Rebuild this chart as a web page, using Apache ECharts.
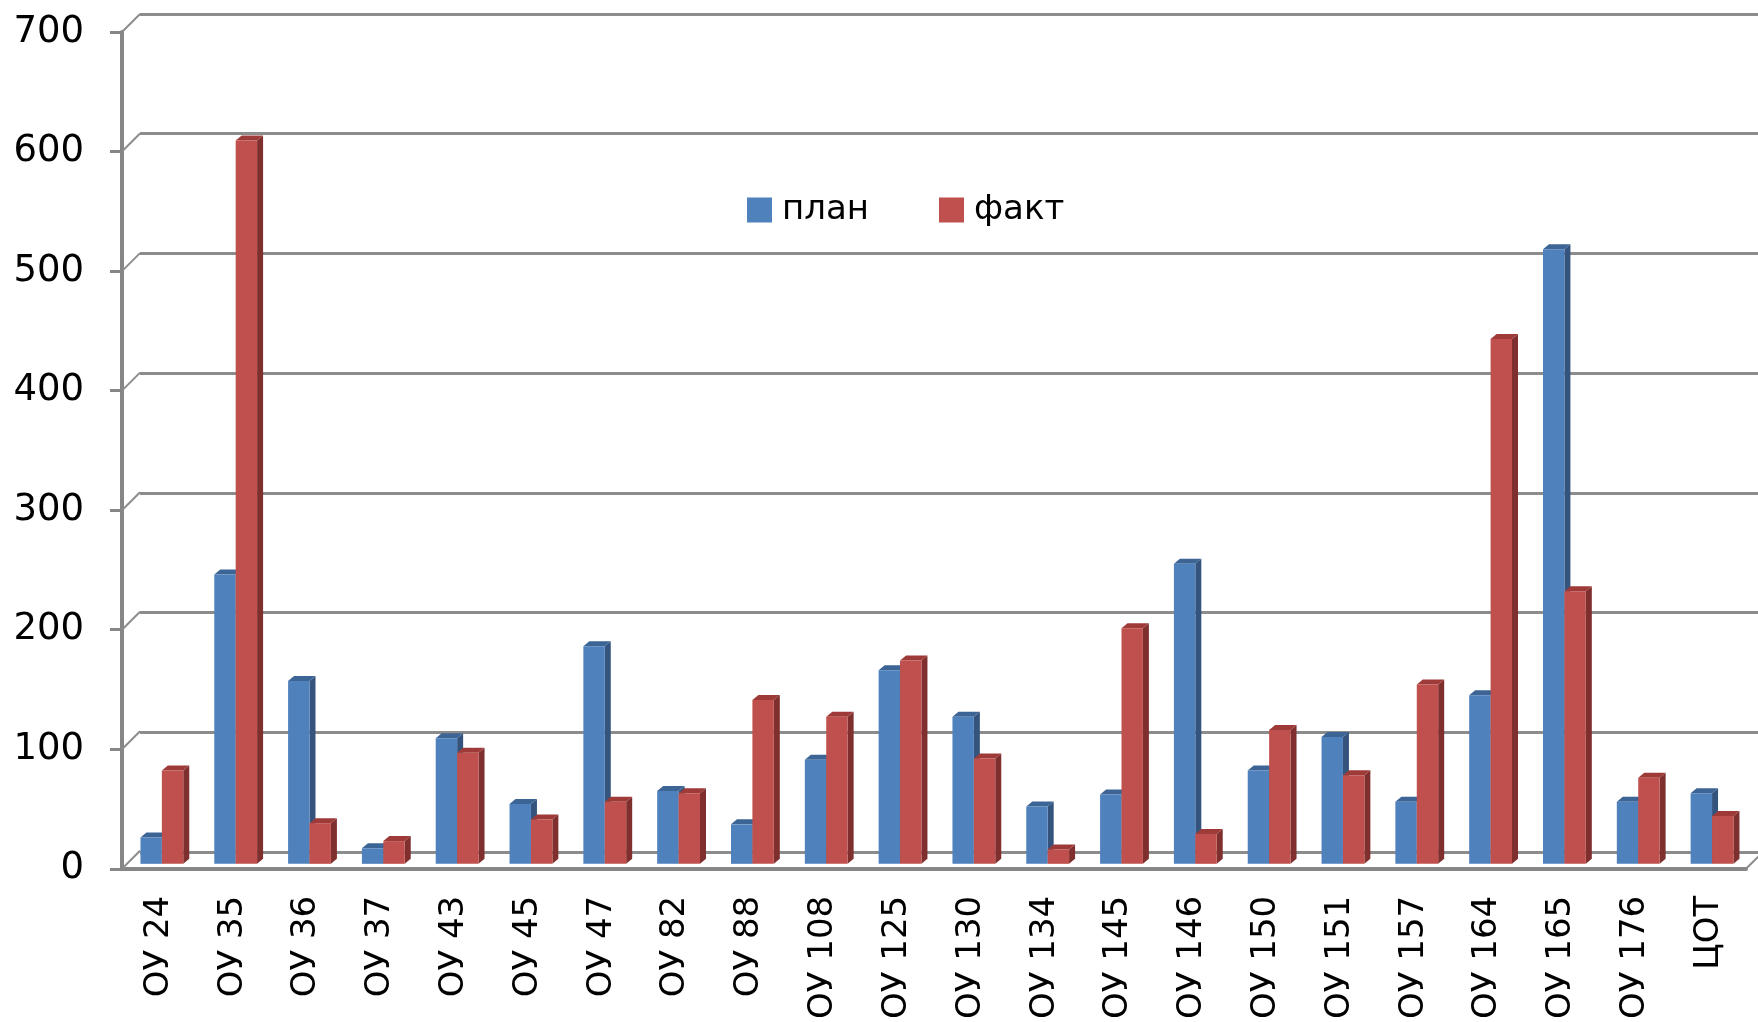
<!DOCTYPE html>
<html lang="ru">
<head>
<meta charset="UTF-8">
<title>план / факт</title>
<script src="https://cdn.jsdelivr.net/npm/echarts@6/dist/echarts.min.js"></script>
<style>
    * { padding: 0; margin: 0; }
    body { background: #fff; }
</style>
</head>
<body>
<div id="chart" style="width:1758px;height:1022px;"></div>
<script>
    var categories = ['ОУ 24', 'ОУ 35', 'ОУ 36', 'ОУ 37', 'ОУ 43', 'ОУ 45', 'ОУ 47', 'ОУ 82', 'ОУ 88', 'ОУ 108', 'ОУ 125',
        'ОУ 130', 'ОУ 134', 'ОУ 145', 'ОУ 146', 'ОУ 150', 'ОУ 151', 'ОУ 157', 'ОУ 164', 'ОУ 165', 'ОУ 176', 'ЦОТ'];
    var plan = [22, 242, 153, 13, 105, 50, 182, 61, 33, 87, 162, 123, 48, 58, 251, 78, 106, 52, 141, 514, 52, 59];
    var fact = [78, 605, 34, 19, 93, 37, 52, 59, 137, 123, 170, 88, 12, 197, 25, 112, 74, 150, 439, 228, 72, 40];
    var yTicks = [0, 100, 200, 300, 400, 500, 600, 700];

    var font = 'DejaVu Sans';

    // bar drawn as front face + dark right side + top, like the excel 3d column
    function bar3d(off, front, side, topc) {
        return function (params, api) {
            var i = api.value(0), v = api.value(1);
            var top = api.coord([i, v]);
            var base = api.coord([i, 0]);
            var band = api.size([1, 0])[0];
            var w = band * 0.29;
            var x0 = top[0] + band * off;
            var lift = 5, dx = 6, dy = 5;
            var yt = top[1] - lift, yb = base[1] - lift;
            return {
                type: 'group',
                children: [
                    {type: 'polygon', shape: {points: [[x0 + w, yt], [x0 + w + dx, yt - dy], [x0 + w + dx, yb - dy], [x0 + w, yb]]},
                        style: {fill: side}},
                    {type: 'polygon', shape: {points: [[x0, yt], [x0 + dx, yt - dy], [x0 + w + dx, yt - dy], [x0 + w, yt]]},
                        style: {fill: topc}},
                    {type: 'rect', shape: {x: x0, y: yt, width: w, height: yb - yt}, style: {fill: front}}
                ]
            };
        };
    }

    var chart = echarts.init(document.getElementById('chart'));
    var option = {
        animation: false,
        color: ['#4F81BD', '#C0504D'],
        legend: {
            data: ['план', 'факт'],
            left: 747,
            top: 193,
            padding: 0,
            icon: 'rect',
            itemWidth: 25,
            itemHeight: 25,
            itemGap: 70,
            textStyle: {fontFamily: font, fontSize: 34, color: '#000', padding: [0, 0, 0, 5]}
        },
        grid: [
            {left: 122, right: 12, top: 32, bottom: 152},
            {left: 140, right: -30, top: 14, bottom: 170}
        ],
        xAxis: [
            {
                type: 'category',
                gridIndex: 0,
                data: categories,
                axisLine: {lineStyle: {color: '#868686', width: 4}},
                axisTick: {length: 14, lineStyle: {color: '#868686', width: 3}},
                axisLabel: {
                    interval: 0, rotate: 90, margin: 27,
                    fontFamily: font, fontSize: 34, color: '#000'
                }
            },
            {type: 'value', gridIndex: 1, min: 0, max: 1, show: false}
        ],
        yAxis: [
            {
                type: 'value',
                gridIndex: 0,
                min: 0, max: 700, interval: 100,
                axisLine: {show: true, lineStyle: {color: '#868686', width: 4}},
                axisTick: {show: true, length: 12, lineStyle: {color: '#868686', width: 3}},
                axisLabel: {margin: 38, fontFamily: font, fontSize: 37, color: '#000'},
                splitLine: {show: false}
            },
            {
                type: 'value',
                gridIndex: 1,
                min: 0, max: 700, interval: 100,
                axisLine: {show: false},
                axisTick: {show: false},
                axisLabel: {show: false},
                splitLine: {show: true, lineStyle: {color: '#8c8c8c', width: 3}}
            }
        ],
        series: [
            {
                // little diagonals linking the front axis to the back wall
                type: 'custom',
                silent: true,
                xAxisIndex: 0, yAxisIndex: 0,
                data: yTicks.map(function (t) { return [0, t]; }),
                renderItem: function (params, api) {
                    var p = api.coord([0, api.value(1)]);
                    var band = api.size([1, 0])[0];
                    var x = p[0] - band / 2;
                    var kids = [{type: 'line', shape: {x1: x, y1: p[1], x2: x + 18, y2: p[1] - 18},
                        style: {stroke: '#8c8c8c', lineWidth: 2}}];
                    if (api.value(1) === 0) {
                        var r = api.coord([categories.length - 1, 0])[0] + band / 2;
                        kids.push({type: 'line', shape: {x1: r, y1: p[1], x2: r + 18, y2: p[1] - 18},
                            style: {stroke: '#8c8c8c', lineWidth: 2}});
                    }
                    return {type: 'group', children: kids};
                }
            },
            {
                name: 'план',
                type: 'custom',
                xAxisIndex: 0, yAxisIndex: 0,
                itemStyle: {color: '#4F81BD'},
                data: plan.map(function (v, i) { return [i, v]; }),
                renderItem: bar3d(-0.25, '#4F81BD', '#34547E', '#3C6494')
            },
            {
                name: 'факт',
                type: 'custom',
                xAxisIndex: 0, yAxisIndex: 0,
                itemStyle: {color: '#C0504D'},
                data: fact.map(function (v, i) { return [i, v]; }),
                renderItem: bar3d(0.04, '#C0504D', '#7F2F2E', '#9E3B39')
            }
        ]
    };
    chart.setOption(option);
</script>
</body>
</html>
